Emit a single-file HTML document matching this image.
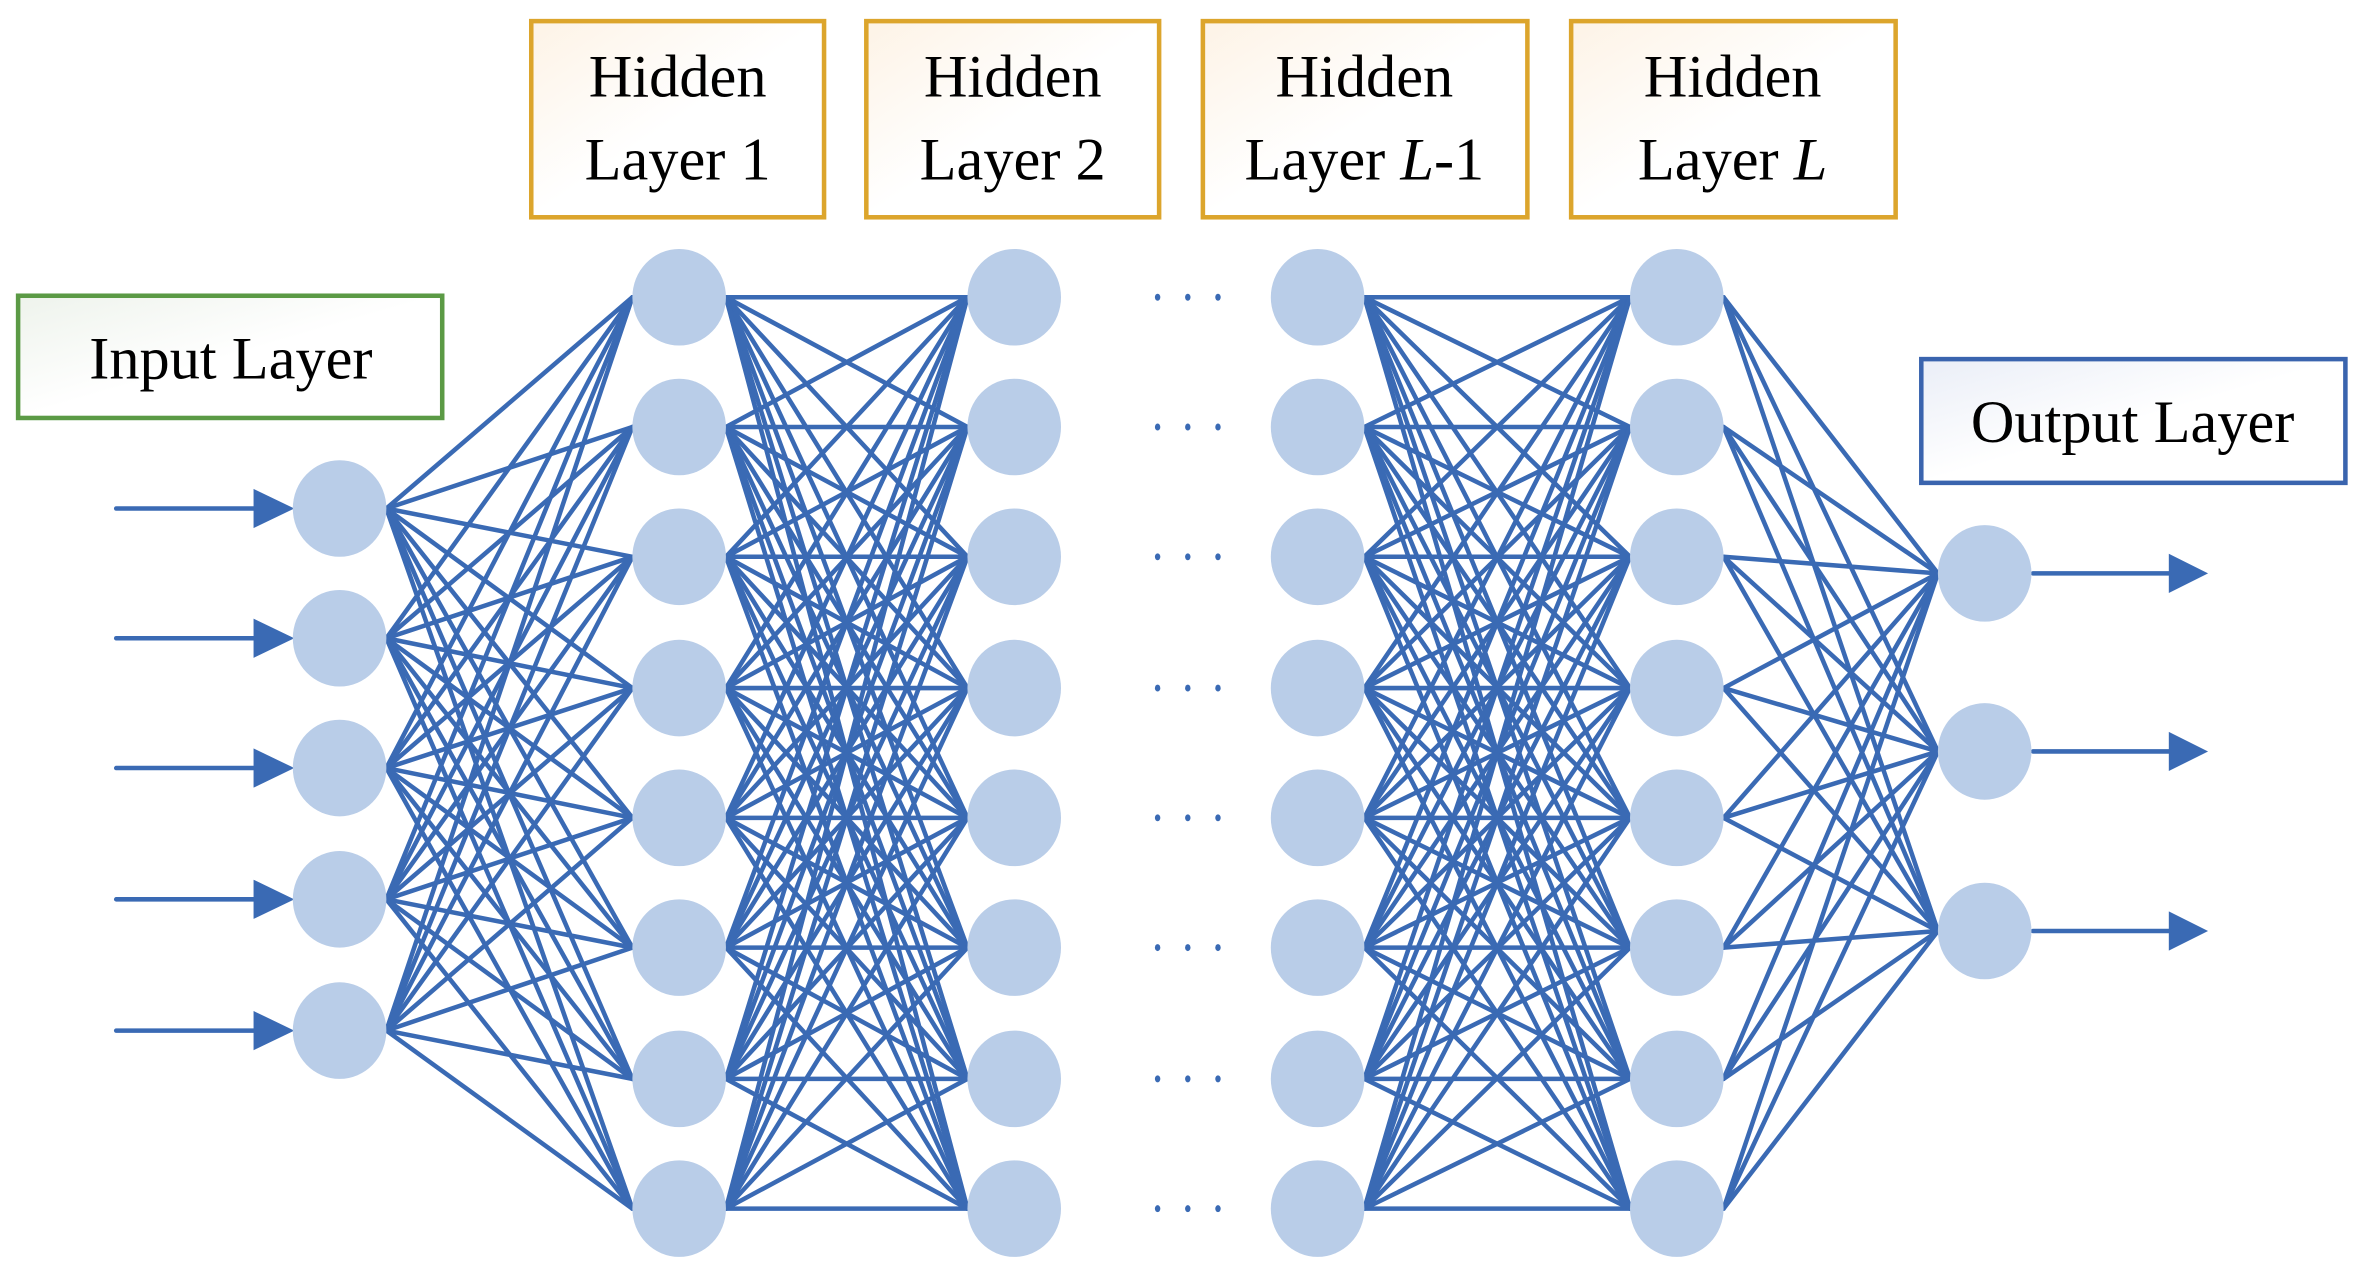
<!DOCTYPE html>
<html><head><meta charset="utf-8"><style>
html,body{margin:0;padding:0;background:#fff;}
svg{display:block;}
text{font-family:"Liberation Serif",serif;fill:#000;}
</style></head><body>
<svg id="s" width="2362" height="1269" viewBox="0 0 1565 841" preserveAspectRatio="none" xmlns="http://www.w3.org/2000/svg">
<defs>
<linearGradient id="go" x1="0" y1="0" x2="1" y2="1"><stop offset="0" stop-color="#fdf3e6"/><stop offset="0.5" stop-color="#fff"/></linearGradient>
<linearGradient id="gg" x1="0" y1="0" x2="1" y2="1"><stop offset="0" stop-color="#eef3ec"/><stop offset="0.5" stop-color="#fff"/></linearGradient>
<linearGradient id="gb" x1="0" y1="0" x2="1" y2="1"><stop offset="0" stop-color="#eaeef7"/><stop offset="0.5" stop-color="#fff"/></linearGradient>
</defs>
<g id="lines" stroke="#3a6ab4" stroke-width="3" stroke-linecap="round"></g>
<g id="nodes" fill="#b9cde8"></g>
<rect x="352" y="14" width="194" height="130" fill="url(#go)" stroke="#dca52c" stroke-width="3"/>
<rect x="574" y="14" width="194" height="130" fill="url(#go)" stroke="#dca52c" stroke-width="3"/>
<rect x="797" y="14" width="215" height="130" fill="url(#go)" stroke="#dca52c" stroke-width="3"/>
<rect x="1041" y="14" width="215" height="130" fill="url(#go)" stroke="#dca52c" stroke-width="3"/>
<rect x="12" y="196" width="281" height="81" fill="url(#gg)" stroke="#5b9a45" stroke-width="3"/>
<rect x="1273" y="238" width="281" height="82" fill="url(#gb)" stroke="#3a64ae" stroke-width="3"/>
<g font-size="40" text-anchor="middle">
<text x="449" y="64">Hidden</text><text x="449" y="119">Layer 1</text>
<text x="671" y="64">Hidden</text><text x="671" y="119">Layer 2</text>
<text x="904" y="64">Hidden</text><text x="904" y="119">Layer <tspan font-style="italic">L</tspan>-1</text>
<text x="1148" y="64">Hidden</text><text x="1148" y="119">Layer <tspan font-style="italic">L</tspan></text>
<text x="153" y="251">Input Layer</text>
<text x="1413" y="293">Output Layer</text>
</g>
<g id="dots" fill="#3a6ab4"></g>
</svg>
<script>
var NS="http://www.w3.org/2000/svg";
function el(p,t,a){var e=document.createElementNS(NS,t);for(var k in a)e.setAttribute(k,a[k]);document.getElementById(p).appendChild(e);}
var inY=[337,423,509,596,683],hY=[197,283,369,456,542,628,715,801],oY=[380,498,617];
var layers=[[225,inY],[450,hY],[672,hY],[873,hY],[1111,hY],[1315,oY]];
var r=31;
function conn(a,b){a[1].forEach(function(y1){b[1].forEach(function(y2){el("lines","line",{x1:a[0]+r,y1:y1,x2:b[0]-r,y2:y2});});});}
conn(layers[0],layers[1]);conn(layers[1],layers[2]);conn(layers[3],layers[4]);conn(layers[4],layers[5]);
inY.forEach(function(y){el("lines","line",{x1:77,y1:y,x2:175,y2:y});el("lines","polygon",{points:"168,"+(y-13)+" 195,"+y+" 168,"+(y+13),fill:"#3a6ab4",stroke:"none"});});
oY.forEach(function(y){el("lines","line",{x1:1347,y1:y,x2:1440,y2:y});el("lines","polygon",{points:"1437,"+(y-13)+" 1463,"+y+" 1437,"+(y+13),fill:"#3a6ab4",stroke:"none"});});
layers.forEach(function(l){l[1].forEach(function(y){el("nodes","ellipse",{cx:l[0],cy:y,rx:31,ry:32});});});
hY.forEach(function(y){[767,787,807].forEach(function(x){el("dots","ellipse",{cx:x,cy:y,rx:1.8,ry:2.3});});});
</script>
</body></html>
